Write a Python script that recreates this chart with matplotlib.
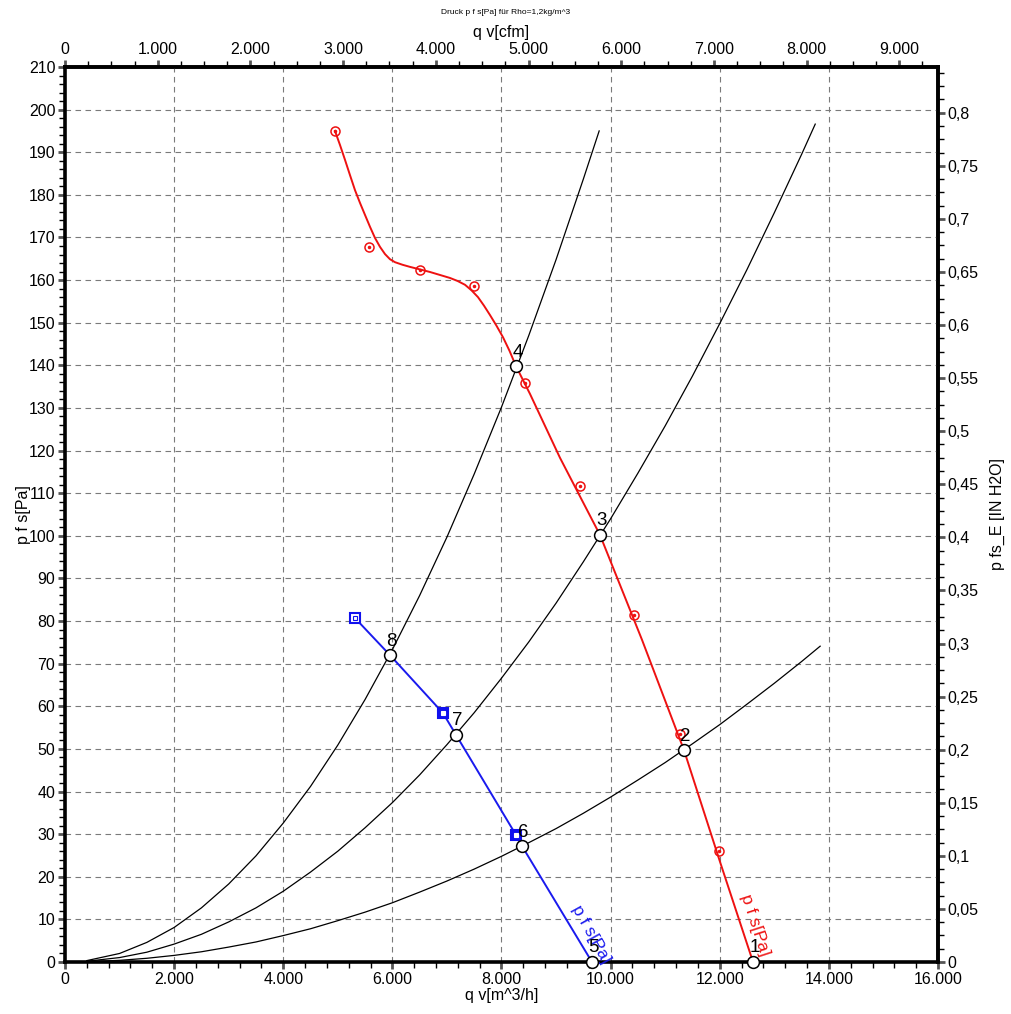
import matplotlib
matplotlib.use("Agg")
import matplotlib.pyplot as plt
from matplotlib.ticker import MultipleLocator, FuncFormatter, FixedLocator

plt.rcParams['font.family'] = ['Liberation Sans', 'DejaVu Sans']

# ---------------- data ----------------
# red fan curve (line vertices)  q_v [m^3/h], p_fs [Pa]
red_line_q = [4948, 5040, 5132, 5224, 5315, 5407, 5498, 5590, 5681, 5773, 5865, 5956,
              6048, 6185, 6323, 6507, 6690, 6873, 7056, 7194, 7331, 7450, 7569, 7679,
              7789, 7908, 8027, 8147, 8266, 8522, 9072, 9805, 10575, 11345, 12005, 12610]
red_line_p = [195.0, 191.7, 188.2, 184.6, 181.1, 178.1, 175.3, 172.5, 169.9, 167.8,
              166.1, 164.9, 164.2, 163.6, 163.1, 162.5, 161.9, 161.2, 160.5, 159.8,
              158.9, 157.6, 156.0, 154.0, 151.8, 149.3, 146.6, 143.4, 139.8, 133.3,
              118.3, 100.2, 75.6, 49.7, 23.5, 0.0]
# red measured markers
red_pts_q = [4948, 5572, 6507, 7496, 8431, 9439, 10429, 11272, 11987]
red_pts_p = [195.0, 167.8, 162.4, 158.6, 135.9, 111.7, 81.4, 53.5, 26.0]

# blue fan curve
blue_line_q = [5315, 5956, 6928, 7166, 8266, 8376, 9658]
blue_line_p = [80.7, 72.0, 58.4, 53.3, 29.8, 27.2, 0.0]
blue_pts_q = [5315, 6928, 8266]
blue_pts_p = [80.7, 58.4, 29.8]
blue_pts_filled = [False, True, True]

# system (resistance) curves
sysA_q = [400, 1000, 1500, 2000, 2500, 3000, 3500, 4000, 4500, 5000, 5500, 6000,
          6500, 7000, 7500, 8000, 8500, 9000, 9500, 9790]
sysA_p = [0.33, 2.0, 4.6, 8.1, 12.7, 18.3, 24.9, 32.6, 41.2, 50.9, 61.6, 73.3,
          86.0, 99.7, 114.5, 130.2, 147.0, 164.8, 183.7, 195.0]
sysB_q = [400, 1000, 1500, 2000, 2500, 3000, 3500, 4000, 4500, 5000, 5500, 6000,
          6500, 7000, 7500, 8000, 8500, 9000, 9500, 10000, 10500, 11000, 11500,
          12000, 12500, 13000, 13500, 13750]
sysB_p = [0.17, 1.04, 2.3, 4.2, 6.5, 9.4, 12.7, 16.6, 21.1, 26.0, 31.5, 37.4,
          43.9, 51.0, 58.5, 66.6, 75.1, 84.2, 93.9, 104.0, 114.7, 125.8, 137.5,
          149.8, 162.5, 175.8, 189.5, 196.6]
sysC_q = [400, 1000, 1500, 2000, 2500, 3000, 3500, 4000, 4500, 5000, 5500, 6000,
          6500, 7000, 7500, 8000, 8500, 9000, 9500, 10000, 10500, 11000, 11500,
          12000, 12500, 13000, 13500, 13840]
sysC_p = [0.06, 0.39, 0.87, 1.55, 2.4, 3.5, 4.7, 6.2, 7.8, 9.7, 11.7, 13.9,
          16.4, 19.0, 21.8, 24.8, 28.0, 31.3, 34.9, 38.7, 42.7, 46.8, 51.2,
          55.7, 60.5, 65.4, 70.5, 74.1]

# operating points
op_labels = ['1', '2', '3', '4', '5', '6', '7', '8']
op_q = [12610, 11345, 9806, 8266, 9658, 8376, 7166, 5956]
op_p = [0.0, 49.7, 100.2, 139.8, 0.0, 27.2, 53.3, 72.0]

# tick values
x_major = [0, 2000, 4000, 6000, 8000, 10000, 12000, 14000, 16000]
y_major = list(range(0, 211, 10))
cfm_major = [0, 1000, 2000, 3000, 4000, 5000, 6000, 7000, 8000, 9000]
inh2o_major = [0.0, 0.05, 0.1, 0.15, 0.2, 0.25, 0.3, 0.35, 0.4, 0.45, 0.5,
               0.55, 0.6, 0.65, 0.7, 0.75, 0.8]

CFM = 1.699      # m^3/h per cfm
INH2O = 249.089  # Pa per inch H2O

# ---------------- figure ----------------
fig = plt.figure(figsize=(10.12, 10.14), dpi=100)
ax = fig.add_axes([65 / 1012, 1 - 962 / 1014, 873 / 1012, 895 / 1014])
ax.set_xlim(0, 16000)
ax.set_ylim(0, 210)

ax.grid(True, which='major', color='#7a7a7a', linestyle=(0, (5, 4)), linewidth=0.8)
ax.set_axisbelow(True)

for q, p in [(sysA_q, sysA_p), (sysB_q, sysB_p), (sysC_q, sysC_p)]:
    ax.plot(q, p, color='black', linewidth=0.9, zorder=3)

ax.plot(red_line_q, red_line_p, color='#ee1111', linewidth=1.4, zorder=4)
ax.plot(red_pts_q, red_pts_p, linestyle='none', marker='o', markersize=6.5,
        markerfacecolor='none', markeredgecolor='#ee1111', markeredgewidth=1.1, zorder=5)
ax.plot(red_pts_q, red_pts_p, linestyle='none', marker='o', markersize=1.5,
        color='#ee1111', zorder=5)

ax.plot(blue_line_q, blue_line_p, color='#1a1aee', linewidth=1.4, zorder=4)
for q, p, f in zip(blue_pts_q, blue_pts_p, blue_pts_filled):
    ax.plot([q], [p], linestyle='none', marker='s', markersize=7.5,
            markerfacecolor='#1010ee' if f else 'white', markeredgecolor='#1010ee',
            markeredgewidth=1.5, zorder=5)
    ax.plot([q], [p], linestyle='none', marker='s', markersize=2.2,
            markerfacecolor='white' if f else 'none', markeredgecolor='white' if f else '#1010ee',
            markeredgewidth=0.8, zorder=6)

ax.plot(op_q, op_p, linestyle='none', marker='o', markersize=8.5,
        markerfacecolor='white', markeredgecolor='black', markeredgewidth=1.1,
        zorder=7, clip_on=False)
for lab, q, p in zip(op_labels, op_q, op_p):
    ax.annotate(lab, (q, p), xytext=(1, 4), textcoords='offset points',
                ha='center', va='bottom', fontsize=13.5, color='black', zorder=8)

ax.text(12650, 8.7, 'p f s[Pa]', color='#ee1111', fontsize=12.5, rotation=-72,
        ha='center', va='center', rotation_mode='anchor')
ax.text(9640, 6.5, 'p f s[Pa]', color='#1a1aee', fontsize=12.5, rotation=-61,
        ha='center', va='center', rotation_mode='anchor')

# ---------------- axes styling ----------------
for s in ax.spines.values():
    s.set_linewidth(2.6)

thou = FuncFormatter(lambda v, pos: f"{int(round(v)):,}".replace(',', '.'))
ax.xaxis.set_major_locator(FixedLocator(x_major))
ax.xaxis.set_minor_locator(MultipleLocator(400))
ax.xaxis.set_major_formatter(thou)
ax.yaxis.set_major_locator(FixedLocator(y_major))
ax.yaxis.set_minor_locator(MultipleLocator(2))
ax.tick_params(which='major', direction='out', length=5, width=2, labelsize=11.5,
               color='#555555', pad=2)
ax.tick_params(which='minor', direction='out', length=4, width=1, color='black')
ax.set_xlabel('q v[m^3/h]', fontsize=11.5, labelpad=1)
ax.set_ylabel('p f s[Pa]', fontsize=11.5, labelpad=-2)

top = ax.secondary_xaxis('top', functions=(lambda x: x / CFM, lambda x: x * CFM))
top.xaxis.set_major_locator(FixedLocator(cfm_major))
top.xaxis.set_minor_locator(FixedLocator([v * 250 for v in range(0, 38)]))
top.xaxis.set_major_formatter(thou)
top.tick_params(which='major', direction='out', length=5, width=2, labelsize=11.5,
                color='#555555', pad=2)
top.tick_params(which='minor', direction='out', length=4, width=1, color='black')
top.spines['top'].set_linewidth(2.6)
top.set_xlabel('q v[cfm]', fontsize=11.5, labelpad=4)

right = ax.secondary_yaxis('right', functions=(lambda p: p / INH2O, lambda v: v * INH2O))
right.yaxis.set_major_locator(FixedLocator(inh2o_major))
right.yaxis.set_minor_locator(FixedLocator([v * 0.0125 for v in range(0, 68)]))
right.yaxis.set_major_formatter(FuncFormatter(
    lambda v, pos: ('0' if abs(v) < 1e-9 else f"{v:.2f}".rstrip('0').replace('.', ','))))
right.tick_params(which='major', direction='out', length=5, width=2, labelsize=11.5,
                  color='#555555', pad=2)
right.tick_params(which='minor', direction='out', length=4, width=1, color='black')
right.spines['right'].set_linewidth(2.6)
right.set_ylabel('p fs_E [IN H2O]', fontsize=11.5, labelpad=8)

fig.text(0.5, 1 - 12 / 1014, 'Druck p f s[Pa] für Rho=1,2kg/m^3',
         family=['Liberation Sans Narrow', 'Liberation Sans', 'DejaVu Sans'],
         fontsize=6, ha='center', va='center')

fig.savefig('out.png', dpi=100)
